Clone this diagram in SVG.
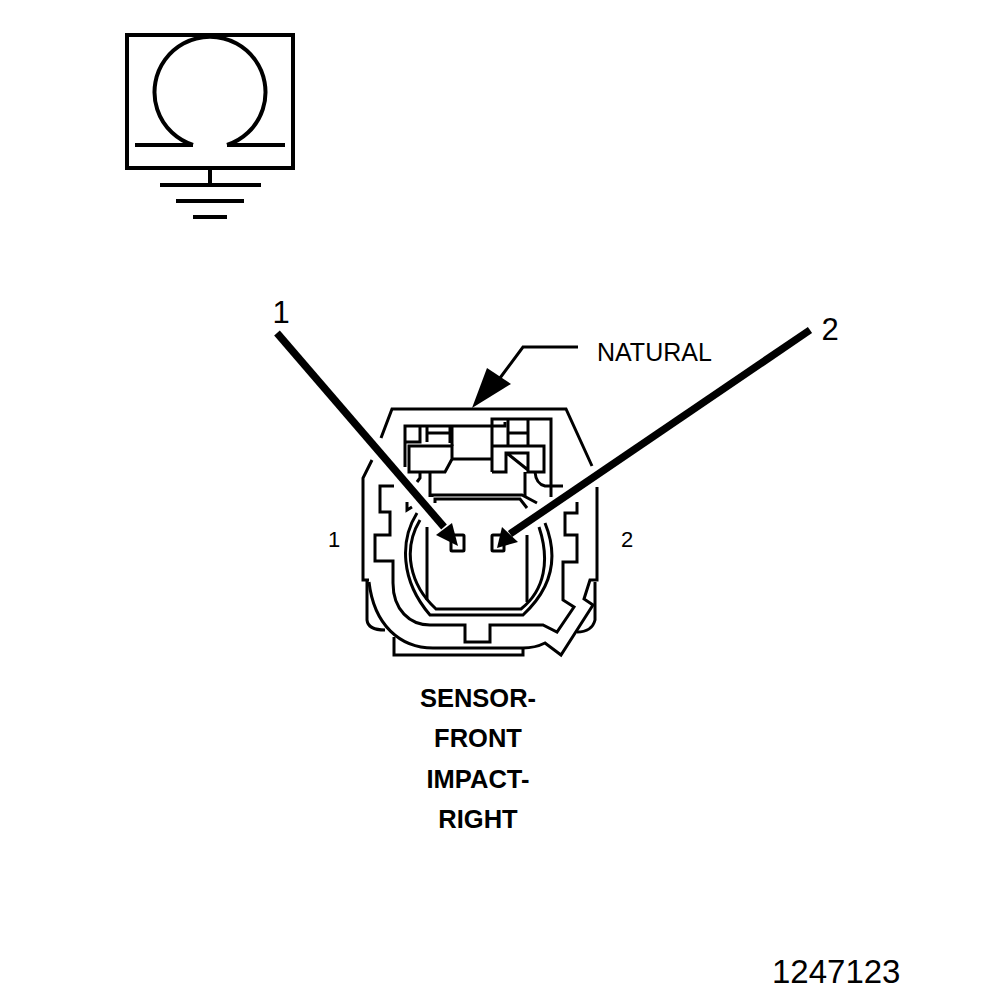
<svg xmlns="http://www.w3.org/2000/svg" width="1008" height="1000" viewBox="0 0 1008 1000">
<style>
.l{fill:none;stroke:#000;stroke-width:3;stroke-linejoin:miter}
.t{font-family:"Liberation Sans",Arial,sans-serif;fill:#000}
.b{font-weight:bold;font-size:25.5px;text-anchor:middle}
.p{stroke:#000;stroke-width:7.5;fill:none}
</style>
<rect width="1008" height="1000" fill="#fff"/>
<g id="ground-symbol" class="l">
<rect x="127" y="35" width="166" height="133" stroke-width="4"/>
<path stroke-width="4" d="M193 145A55.5 55.5 0 1 1 227 145"/>
<path d="M135 145H193M227 145H285M210 168V185M160 185H261M176 201H244M193 217H227" stroke-width="4"/>
</g>
<g id="connector-body" class="l">
<path d="M381 438L392 409H566L592 466"/>
<path d="M372 460L363 478V580H369"/>
<path d="M597 487V580H590L584 599L593 605L561 655L545 643Q535 648 523 648H433C400 648 374 625 369 582"/>
<path d="M367 580V620Q368 630 385 630"/>
<path d="M595 582V620Q592 632 577 632"/>
<path d="M394 637V655H523V648"/>
<path d="M394 486H380V512H390V535H375V561H393V583C393 610 410 625 430 625H465V642H490V625H543L557 632L574 607L563 600V562H577V535H565V513H577V502"/>
<path d="M405 467V426H505V422M405 442H420V426M427 426V442M450 426V443M427 433H450M452 426V446"/>
<path d="M409 446H452V459L445 472H409Z"/>
<path d="M452 459H492"/>
<path d="M492 472V419H551V497M492 472H506V453H528V472H544V446H492M508 419V446M528 419V446M508 433H528M508 454L528 470M525 472V497"/>
<path d="M535 472Q536 484 545 486H563"/>
<path d="M430 472V497M420 472V478L417 482"/>
<path d="M432 497V495H522L537 503M435 503V499H520L527 508"/>
<path d="M407 502V510L412 507"/>
<path d="M417 513C400 540 400 580 430 615H523C550 590 560 560 545 523"/>
<path d="M420 520C402 550 410 585 436 609H521C545 590 550 560 539 527"/>
<path d="M427 527V600M527 535V602"/>
<rect x="451" y="535" width="13" height="16" rx="1"/>
<rect x="492" y="535" width="12" height="16" rx="1"/>
</g>
<g id="connectors">
<path class="p" d="M277 333L444 527"/>
<polygon points="458,546 436,535 452,523"/>
<path class="p" d="M810 330L510 534"/>
<polygon points="497,548 502,527 518,542"/>
<path class="l" stroke-width="2" d="M578 347H523L500 378"/>
<polygon points="472,408 487,368 511,384"/>
</g>
<g id="labels">
<text class="t" x="281" y="323" font-size="31" text-anchor="middle">1</text>
<text class="t" x="830" y="340" font-size="31" text-anchor="middle">2</text>
<text class="t" x="597" y="361" font-size="25">NATURAL</text>
<text class="t" x="334" y="547" font-size="22" text-anchor="middle">1</text>
<text class="t" x="627" y="547" font-size="22" text-anchor="middle">2</text>
<text class="t b" x="478" y="707">SENSOR-</text>
<text class="t b" x="478" y="747">FRONT</text>
<text class="t b" x="478" y="788">IMPACT-</text>
<text class="t b" x="478" y="828">RIGHT</text>
<text class="t" x="772" y="983" font-size="33">1247123</text>
</g>
</svg>
